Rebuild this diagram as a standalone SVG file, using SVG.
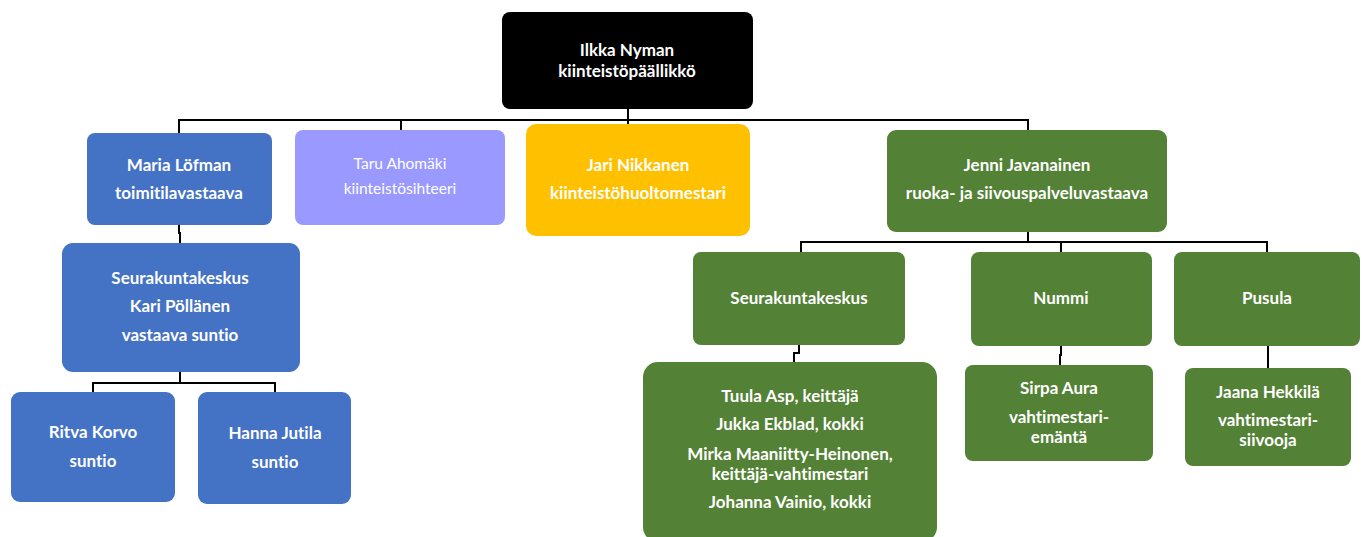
<svg xmlns="http://www.w3.org/2000/svg" width="1365" height="537" viewBox="0 0 1365 537">
<style>
.t{font-family:Lato,"Open Sans","Liberation Sans",sans-serif;font-weight:bold;font-size:17px;fill:#fff;text-anchor:middle;font-variant-ligatures:none;font-feature-settings:"liga" 0}
.n{font-weight:normal;font-size:15.5px}
.k{fill:#000}.b{fill:#4472C4}.p{fill:#9999FF}.y{fill:#FFC000}.g{fill:#538135}
.c{fill:none;stroke:#000;stroke-width:2}
</style>
<rect width="1365" height="537" fill="#fff"/>
<g id="connectors">
<path class="c" d="M628 109V120M179 133V120H1028V130M401 120V130M628 120V124"/>
<path class="c" d="M179 225V233H180V243"/>
<path class="c" d="M180 372V383M93 393V383H275V393"/>
<path class="c" d="M1028 232V242M801 252V242H1267V252M1061 242V252"/>
<path class="c" d="M799 345V353H794V362"/>
<path class="c" d="M1061 346V355H1060V365"/>
<path class="c" d="M1268 346V368"/>
</g>
<g id="root"><rect class="k" x="502" y="12" width="251" height="97" rx="8"/><text class="t" x="627" y="56">Ilkka Nyman</text><text class="t" x="627" y="77">kiinteistöpäällikkö</text></g>
<g id="maria"><rect class="b" x="87" y="133" width="185" height="92" rx="8"/><text class="t" x="179" y="171">Maria Löfman</text><text class="t" x="179" y="199">toimitilavastaava</text></g>
<g id="taru"><rect class="p" x="295" y="130" width="210" height="95" rx="8"/><text class="t n" x="400" y="169">Taru Ahomäki</text><text class="t n" x="400" y="194">kiinteistösihteeri</text></g>
<g id="jari"><rect class="y" x="526" y="124" width="224" height="112" rx="10"/><text class="t" x="638" y="171">Jari Nikkanen</text><text class="t" x="638" y="199">kiinteistöhuoltomestari</text></g>
<g id="jenni"><rect class="g" x="887" y="130" width="280" height="102" rx="9"/><text class="t" x="1027" y="171">Jenni Javanainen</text><text class="t" x="1027" y="199">ruoka- ja siivouspalveluvastaava</text></g>
<g id="kari"><rect class="b" x="62" y="243" width="238" height="129" rx="11"/><text class="t" x="180" y="284">Seurakuntakeskus</text><text class="t" x="180" y="312">Kari Pöllänen</text><text class="t" x="180" y="341">vastaava suntio</text></g>
<g id="ritva"><rect class="b" x="11" y="392" width="164" height="110" rx="9"/><text class="t" x="93" y="438">Ritva Korvo</text><text class="t" x="93" y="467">suntio</text></g>
<g id="hanna"><rect class="b" x="198" y="392" width="153" height="112" rx="9"/><text class="t" x="275" y="439">Hanna Jutila</text><text class="t" x="275" y="468">suntio</text></g>
<g id="seurakuntakeskus"><rect class="g" x="693" y="252" width="212" height="93" rx="8"/><text class="t" x="799" y="304">Seurakuntakeskus</text></g>
<g id="nummi"><rect class="g" x="971" y="252" width="181" height="94" rx="8"/><text class="t" x="1061" y="304">Nummi</text></g>
<g id="pusula"><rect class="g" x="1174" y="252" width="186" height="94" rx="8"/><text class="t" x="1267" y="304">Pusula</text></g>
<g id="tuula"><rect class="g" x="643" y="362" width="294" height="180" rx="15"/><text class="t" x="790" y="402">Tuula Asp, keittäjä</text><text class="t" x="790" y="430">Jukka Ekblad, kokki</text><text class="t" x="790" y="460">Mirka Maaniitty-Heinonen,</text><text class="t" x="790" y="480">keittäjä-vahtimestari</text><text class="t" x="790" y="508">Johanna Vainio, kokki</text></g>
<g id="sirpa"><rect class="g" x="965" y="365" width="188" height="96" rx="8"/><text class="t" x="1059" y="394">Sirpa Aura</text><text class="t" x="1059" y="423">vahtimestari-</text><text class="t" x="1059" y="443">emäntä</text></g>
<g id="jaana"><rect class="g" x="1185" y="368" width="166" height="98" rx="8"/><text class="t" x="1268" y="398">Jaana Hekkilä</text><text class="t" x="1268" y="426">vahtimestari-</text><text class="t" x="1268" y="446">siivooja</text></g>
</svg>
